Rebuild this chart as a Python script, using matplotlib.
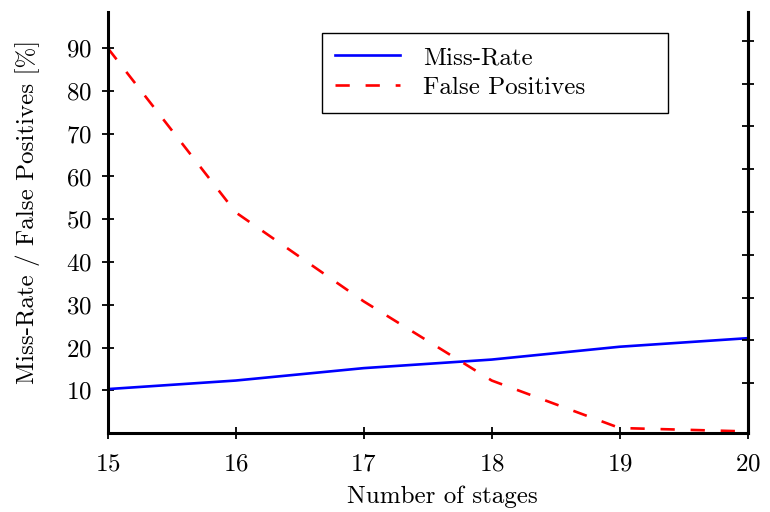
import matplotlib
matplotlib.use('Agg')
import matplotlib.pyplot as plt

plt.rcParams['font.family'] = 'serif'
plt.rcParams['font.serif'] = ['cmr10']
plt.rcParams['mathtext.fontset'] = 'cm'
plt.rcParams['axes.formatter.use_mathtext'] = True

stages = [15, 16, 17, 18, 19, 20]
miss_rate = [10.3, 12.3, 15.2, 17.2, 20.2, 22.2]
false_pos = [90.0, 51.6, 30.8, 12.3, 1.2, 0.4]
yticks = [10, 20, 30, 40, 50, 60, 70, 80, 90]

fig = plt.figure(figsize=(7.7, 5.12), dpi=100)
ax = fig.add_axes([0.140, 0.154, 0.831, 0.823])

ax.plot(stages, miss_rate, color='blue', lw=1.9, label='Miss-Rate')
ax.plot(stages, false_pos, color='red', lw=1.9, dashes=(5.4, 6.0), label='False Positives')

ax.set_xlim(15, 20)
ax.set_ylim(0, 98.5)
ax.set_xticks(stages)
ax.set_yticks(yticks)
ax.tick_params(direction='inout', length=9, width=1.3, labelsize=18, pad=7)
ax.tick_params(axis='x', pad=10)

for side in ['left', 'bottom', 'right']:
    ax.spines[side].set_linewidth(2.2)
ax.spines['top'].set_visible(False)

# right-hand axis only carries unlabeled ticks
ax2 = ax.twinx()
ax2.set_ylim(-1.7, 96.8)
ax2.set_yticks(yticks)
ax2.set_yticklabels([])
ax2.tick_params(direction='inout', length=9, width=1.3)
for side in ['left', 'bottom', 'top']:
    ax2.spines[side].set_visible(False)
ax2.spines['right'].set_linewidth(2.2)

ax.set_xlabel('Number of stages', fontsize=18)
ax.set_ylabel('Miss-Rate / False Positives [%]', fontsize=18)
ax.xaxis.set_label_coords(0.523, -0.152)
ax.yaxis.set_label_coords(-0.126, 0.525)
ax.xaxis.label.set_va('center')
ax.yaxis.label.set_va('center')

leg = ax.legend(loc='upper left', bbox_to_anchor=(0.334, 0.95, 0.541, 0.0), mode='expand',
                fontsize=18, frameon=True, fancybox=False, edgecolor='black', framealpha=1,
                handlelength=2.6, borderaxespad=0, borderpad=0.55, labelspacing=0.3,
                handletextpad=0.9)
leg.get_frame().set_linewidth(1.0)

fig.savefig('out.png', dpi=100)
